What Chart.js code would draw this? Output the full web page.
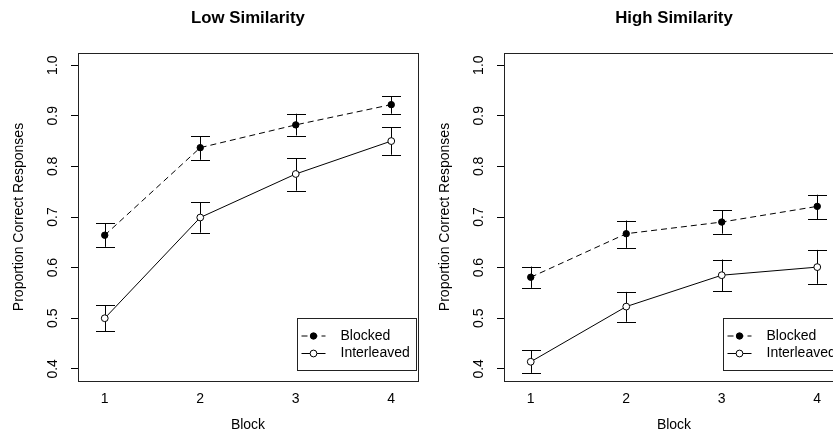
<!DOCTYPE html>
<html>
<head>
<meta charset="utf-8">
<script src="https://cdn.jsdelivr.net/npm/chart.js@4/dist/chart.umd.min.js"></script>
<style>
  html, body { margin: 0; padding: 0; background: #fff; overflow: hidden; width: 833px; height: 434px; }
  .panel { position: absolute; top: 0; width: 426px; height: 434px; }
  #p1 { left: 0; }
  #p2 { left: 426px; }
</style>
</head>
<body>
<div class="panel" id="p1"><canvas id="c1" width="426" height="434"></canvas></div>
<div class="panel" id="p2"><canvas id="c2" width="426" height="434"></canvas></div>
<script>
// data
const blocks = [1, 2, 3, 4];
const yTicks = [0.4, 0.5, 0.6, 0.7, 0.8, 0.9, 1.0];
const seriesNames = ['Blocked', 'Interleaved'];

const lowBlocked      = [0.664, 0.837, 0.882, 0.922];
const lowBlockedLower = [0.641, 0.813, 0.861, 0.904];
const lowBlockedUpper = [0.688, 0.860, 0.904, 0.939];
const lowInter        = [0.500, 0.699, 0.785, 0.850];
const lowInterLower   = [0.474, 0.669, 0.752, 0.823];
const lowInterUpper   = [0.526, 0.729, 0.816, 0.877];

const highBlocked      = [0.581, 0.667, 0.690, 0.721];
const highBlockedLower = [0.560, 0.639, 0.667, 0.696];
const highBlockedUpper = [0.602, 0.693, 0.713, 0.744];
const highInter        = [0.414, 0.523, 0.585, 0.601];
const highInterLower   = [0.392, 0.493, 0.553, 0.568];
const highInterUpper   = [0.437, 0.552, 0.616, 0.635];

const FONT = '"Liberation Sans", Arial, Helvetica, sans-serif';
const font14 = { family: FONT, size: 14 };

// box, title, error bars and legend in R style
const rStyle = {
  id: 'rStyle',
  beforeDatasetsDraw(chart, args, opts) {
    const c = chart.ctx;
    const xs = chart.scales.x, ys = chart.scales.y;
    c.save();
    c.strokeStyle = '#000';
    c.lineWidth = 1;
    opts.bars.forEach(b => {
      blocks.forEach((bk, i) => {
        const px = Math.round(xs.getPixelForValue(bk)) + 0.5;
        const lo = ys.getPixelForValue(b.lower[i]);
        const hi = ys.getPixelForValue(b.upper[i]);
        c.beginPath();
        c.moveTo(px, lo); c.lineTo(px, hi);
        c.moveTo(px - 9.5, Math.round(lo) + 0.5); c.lineTo(px + 9.5, Math.round(lo) + 0.5);
        c.moveTo(px - 9.5, Math.round(hi) + 0.5); c.lineTo(px + 9.5, Math.round(hi) + 0.5);
        c.stroke();
      });
    });
    c.restore();
  },
  afterDraw(chart, args, opts) {
    const c = chart.ctx;
    const a = chart.chartArea;
    c.save();
    // plot box
    c.strokeStyle = '#222';
    c.lineWidth = 1;
    c.strokeRect(Math.round(a.left) + 0.5, Math.round(a.top) + 0.5,
      Math.round(a.right - a.left), Math.round(a.bottom - a.top));
    // title
    c.fillStyle = '#000';
    c.font = 'bold 16.8px ' + FONT;
    c.textAlign = 'center';
    c.textBaseline = 'middle';
    c.fillText(opts.title, (a.left + a.right) / 2, 18);
    // legend
    const w = 119, h = 52;
    const lx = Math.round(a.right - 2.5 - w) + 0.5;
    const ly = Math.round(a.bottom - 11 - h) + 0.5;
    c.fillStyle = '#fff';
    c.fillRect(lx, ly, w, h);
    c.strokeStyle = '#222';
    c.strokeRect(lx, ly, w, h);
    chart.data.datasets.forEach((ds, i) => {
      const ry = ly + 17.5 + i * 17.5;
      c.strokeStyle = '#000';
      c.setLineDash(ds.borderDash || []);
      c.beginPath();
      c.moveTo(lx + 4, ry); c.lineTo(lx + 28, ry);
      c.stroke();
      c.setLineDash([]);
      c.beginPath();
      c.arc(lx + 16, ry, ds.pointRadius, 0, Math.PI * 2);
      c.fillStyle = ds.pointBackgroundColor;
      c.fill();
      c.stroke();
      c.fillStyle = '#000';
      c.font = '14px ' + FONT;
      c.textAlign = 'left';
      c.textBaseline = 'middle';
      c.fillText(ds.label, lx + 43, ry);
    });
    c.restore();
  }
};

function toXY(vals) {
  return blocks.map((b, i) => ({ x: b, y: vals[i] }));
}

function makePanel(id, title, blocked, blockedLo, blockedHi, inter, interLo, interHi) {
  return new Chart(document.getElementById(id), {
    type: 'line',
    data: {
      datasets: [
        {
          label: seriesNames[0],
          data: toXY(blocked),
          borderColor: '#000',
          borderWidth: 1,
          borderDash: [6, 4],
          pointRadius: 3.2,
          pointBackgroundColor: '#000',
          pointBorderColor: '#000',
          pointBorderWidth: 1,
          tension: 0
        },
        {
          label: seriesNames[1],
          data: toXY(inter),
          borderColor: '#000',
          borderWidth: 1,
          pointRadius: 3.4,
          pointBackgroundColor: '#fff',
          pointBorderColor: '#000',
          pointBorderWidth: 1,
          tension: 0
        }
      ]
    },
    options: {
      responsive: false,
      animation: false,
      layout: { padding: { top: 53, right: 8, left: 0, bottom: 0 } },
      plugins: {
        legend: { display: false },
        tooltip: { enabled: false },
        rStyle: {
          title: title,
          bars: [
            { lower: blockedLo, upper: blockedHi },
            { lower: interLo, upper: interHi }
          ]
        }
      },
      scales: {
        x: {
          type: 'linear',
          min: 0.72,
          max: 4.28,
          afterBuildTicks: s => { s.ticks = blocks.map(v => ({ value: v })); },
          afterFit: s => { s.height = 53; },
          border: { display: false },
          grid: { display: false, drawTicks: false },
          ticks: { font: font14, color: '#000', padding: 10, maxRotation: 0, callback: v => String(v) },
          title: { display: true, text: 'Block', font: font14, color: '#000', padding: { top: 1, bottom: 0 } }
        },
        y: {
          type: 'linear',
          min: 0.376,
          max: 1.024,
          afterBuildTicks: s => { s.ticks = yTicks.map(v => ({ value: v })); },
          afterFit: s => { s.width = 78; },
          border: { display: false },
          grid: { drawOnChartArea: false, drawTicks: true, tickLength: 7, color: '#000', lineWidth: 1 },
          ticks: { font: font14, color: '#000', padding: 8, minRotation: 90, maxRotation: 90, crossAlign: 'center',
                   callback: v => v.toFixed(1) },
          title: { display: true, text: 'Proportion Correct Responses', font: font14, color: '#000', padding: { top: 11, bottom: 0 } }
        }
      }
    },
    plugins: [rStyle]
  });
}

makePanel('c1', 'Low Similarity', lowBlocked, lowBlockedLower, lowBlockedUpper, lowInter, lowInterLower, lowInterUpper);
makePanel('c2', 'High Similarity', highBlocked, highBlockedLower, highBlockedUpper, highInter, highInterLower, highInterUpper);
</script>
</body>
</html>
